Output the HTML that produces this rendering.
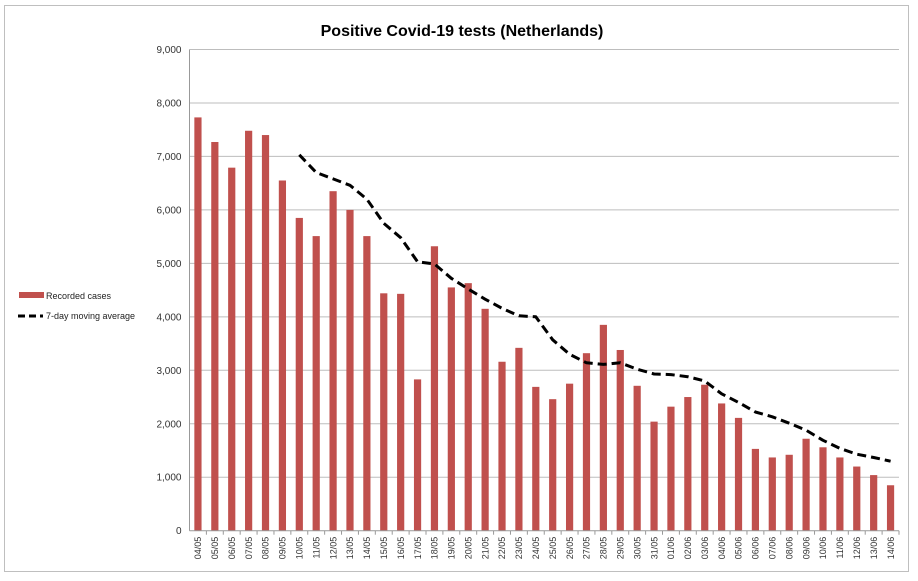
<!DOCTYPE html>
<html><head><meta charset="utf-8"><style>
html,body{margin:0;padding:0;background:#fff;}
svg{display:block;font-family:"Liberation Sans",sans-serif;}
</style></head><body>
<svg id="chart" width="918" height="581" viewBox="0 0 918 581">
<rect x="4.5" y="5.5" width="904" height="566" fill="#fff" stroke="#bfbfbf"/>
<text x="462" y="36" text-anchor="middle" font-size="16" font-weight="bold" fill="#000">Positive Covid-19 tests (Netherlands)</text>
<g id="grid"></g><g id="bars"></g><g id="line"></g><g id="axes"></g>
<g>
<rect x="19" y="292" width="25" height="6" fill="#c0504d"/>
<text x="46" y="299" font-size="9" fill="#222">Recorded cases</text>
<line x1="18" y1="316" x2="43" y2="316" stroke="#000" stroke-width="3" stroke-dasharray="7,4"/>
<text x="46" y="319" font-size="9" fill="#222">7-day moving average</text>
</g>
</svg>
<script>
const categories=["04/05","05/05","06/05","07/05","08/05","09/05","10/05","11/05","12/05","13/05","14/05","15/05","16/05","17/05","18/05","19/05","20/05","21/05","22/05","23/05","24/05","25/05","26/05","27/05","28/05","29/05","30/05","31/05","01/06","02/06","03/06","04/06","05/06","06/06","07/06","08/06","09/06","10/06","11/06","12/06","13/06","14/06"];
const cases=[7730,7270,6790,7480,7400,6550,5850,5510,6350,6000,5510,4440,4430,2830,5320,4550,4630,4150,3160,3420,2690,2460,2750,3320,3850,3380,2710,2040,2320,2500,2730,2380,2110,1530,1370,1420,1720,1560,1370,1200,1040,850];
const movingAverage=[null,null,null,null,null,null,7030,6700,6580,6460,6200,5750,5480,5030,4990,4720,4520,4330,4160,4020,4000,3570,3300,3140,3110,3140,3020,2930,2920,2880,2800,2560,2400,2220,2130,2010,1880,1690,1540,1430,1370,1300];
const yTicks=[0,1000,2000,3000,4000,5000,6000,7000,8000,9000];
const NS="http://www.w3.org/2000/svg";
const X0=189.5,X1=899,Y0=530.7,Y1=49.5,YMAX=9000;
const step=(X1-X0)/categories.length;
const xc=i=>X0+step*(i+0.5);
const y=v=>Y0-(v/YMAX)*(Y0-Y1);
function mk(tag,attrs,parent){const e=document.createElementNS(NS,tag);for(const k in attrs)e.setAttribute(k,attrs[k]);parent.appendChild(e);return e;}
const grid=document.getElementById('grid'),bars=document.getElementById('bars'),line=document.getElementById('line'),axes=document.getElementById('axes');
yTicks.forEach(t=>{
 if(t>0){const g=mk('line',{x1:X0,x2:X1,y1:y(t),y2:y(t),stroke:'#bdbdbd','stroke-width':1},grid);
 
 }
 const tx=mk('text',{x:X0-8,y:y(t)+3.5,'text-anchor':'end','font-size':'10',fill:'#333'},axes);
 tx.textContent=t.toLocaleString('en-US');
 
 
});
const ya=mk('line',{x1:X0,x2:X0,y1:Y1,y2:Y0,stroke:'#999'},axes);


const xa=mk('line',{x1:X0,x2:X1,y1:Y0,y2:Y0,stroke:'#999'},axes);


categories.forEach((c,i)=>{
 const b=mk('rect',{x:xc(i)-3.6,y:y(cases[i]),width:7.2,height:Y0-y(cases[i]),fill:'#c0504d'},bars);
 
 
 const tk=mk('line',{x1:X0+step*(i+1),x2:X0+step*(i+1),y1:Y0,y2:Y0+4,stroke:'#999'},axes);
 
 
 const tx=mk('text',{x:0,y:0,'font-size':'9',fill:'#333','text-anchor':'end',transform:`translate(${xc(i)+3.2},${Y0+6}) rotate(-90)`},axes);
 tx.textContent=c;
 
 
});
let d='';movingAverage.forEach((v,i)=>{if(v==null)return;d+=(d?'L':'M')+xc(i).toFixed(1)+','+y(v).toFixed(1);});
const p=mk('path',{d:d,fill:'none',stroke:'#000','stroke-width':3,'stroke-dasharray':'9,5','stroke-linejoin':'round'},line);


</script>
</body></html>
